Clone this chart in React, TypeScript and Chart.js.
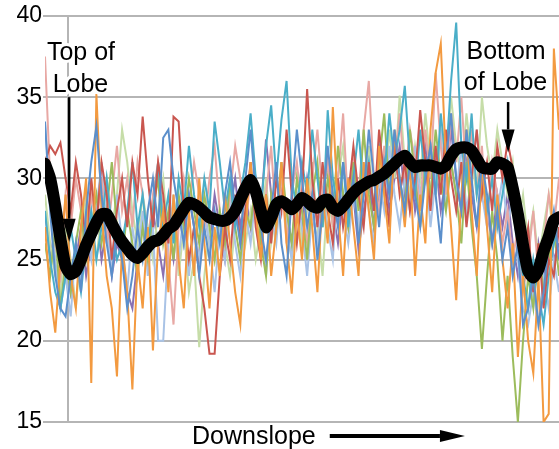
import React, { useEffect, useRef } from "react";
import { Chart, registerables } from "chart.js";

Chart.register(...registerables);

// y axis ticks
const yTickValues = [15, 20, 25, 30, 35, 40];

// thin individual series (sample index 0..100)
const seriesBlue = [
  33.5, 28, 24, 22, 21.5, 24, 26, 23, 28, 31,
  33.2, 29, 26, 24, 27, 25, 22, 24, 27, 25,
  28, 30, 27, 32.5, 33, 30, 28, 26, 29, 27,
  24, 27, 25, 28, 26, 29, 31, 28, 26, 30,
  33, 29, 27, 25, 28, 31, 26, 24, 29, 33,
  30, 27, 29, 25, 28, 32, 29, 27, 31, 28,
  30, 26, 29, 33, 30, 27, 31, 29, 33, 30,
  28, 31, 29, 27, 30, 32, 29, 26, 31, 34,
  30, 28, 33, 30, 27, 31, 29, 26, 28, 25,
  27, 24, 26, 21, 22, 24, 21, 23, 26, 28, 25,
];
const seriesOrange = [
  27, 23, 20.5, 25, 29, 24, 22, 27, 30, 17.4,
  35.2, 28, 24, 22, 17.8, 26, 23, 17, 25, 22,
  27, 19.4, 26, 28, 23, 29, 25, 22, 28, 24,
  30, 26, 22, 27, 24, 29, 26, 23, 21, 27,
  31, 28, 25, 29, 24, 27, 31, 26, 22.9, 28,
  25, 30, 27, 23, 29, 26, 34.4, 28, 24, 30,
  27, 24, 31, 28, 25, 32, 29, 26, 33, 30,
  27, 31, 24, 29, 26, 33, 36.5, 38.3, 31, 27,
  22.5, 29, 33, 28, 24, 31, 27, 23, 29, 25,
  22, 26, 19, 24, 20, 18, 24, 15, 15.5, 38, 33,
];
const seriesRed = [
  31, 32, 31.5, 32.2, 30, 28, 31, 29, 26, 30,
  27, 31, 29, 25, 28, 30, 27, 31, 29, 33.8,
  30, 27, 31, 29, 26, 33.8, 33.5, 28, 25, 27,
  24, 22, 19.2, 19.2, 24, 27, 25, 29, 26, 28,
  31, 27, 25, 29, 26, 30, 28, 33, 29, 26,
  29, 35.5, 30, 27, 31, 28, 26, 30, 27, 29,
  32, 29, 27, 31, 28, 33, 30, 27, 32, 29,
  31, 28, 30, 34.2, 31, 28, 32, 29, 33, 30,
  28, 31, 27, 30, 33, 29, 31, 28, 32, 30,
  32.3, 30.6, 28, 25, 27, 23, 26, 22, 25, 24, 27,
];
const seriesTeal = [
  28, 25, 23, 22, 24, 27, 25, 23, 26, 28,
  25, 27, 30, 27, 25, 26, 28, 31, 27, 29,
  26, 28, 31, 27, 29, 26, 30, 28, 32, 29,
  27, 30, 28, 33.5, 31, 28, 30, 27, 29, 31,
  34, 30, 28, 32, 34.5, 30, 33.6, 36, 30, 28,
  31, 29, 33, 30, 27, 34.2, 30, 28, 31, 27,
  30, 33, 29, 31, 28, 32, 30, 34, 31, 33,
  35.7, 31, 29, 33, 30, 32, 29, 34, 31, 36,
  39.6, 32, 30, 34, 29, 31, 28, 30, 27, 29,
  31, 28, 26, 24, 22, 25, 23, 21, 24, 26, 27,
];
const seriesGreen = [
  26, 24, 27, 22, 25, 23, 26, 28, 25, 27,
  29, 26, 28, 31, 27, 25, 28, 26, 24, 27,
  25, 28, 30, 26, 28, 25, 29, 27, 30, 28,
  26, 29, 27, 25, 28, 26, 30, 27, 25, 28,
  27, 30, 26, 24, 29, 27, 31, 28, 26, 30,
  28, 25, 29, 31, 27, 30, 28, 32, 29, 27,
  31, 28, 33, 29, 27, 31, 34, 29, 32, 30,
  28, 33, 30, 27, 31, 29, 33, 30, 28, 31,
  29, 26, 31, 27, 24, 19.5, 24, 28, 25, 20,
  24, 19, 15, 20, 24, 22, 26, 23, 25, 27, 24,
];
const seriesPink = [
  37.5, 30, 26, 24, 29, 27, 30, 28, 25, 29,
  27, 30, 26, 29, 32, 28, 30, 27, 31, 29,
  26, 29, 31, 28, 25, 21, 27, 30, 28, 31,
  29, 27, 30, 32, 28, 26, 29, 32, 30, 27,
  30, 28, 25, 29, 32, 27, 30, 26, 29, 31,
  28, 26, 30, 33, 29, 31, 27, 30, 34, 28,
  31, 29, 33, 36, 30, 28, 32, 29, 31, 34,
  30, 33, 31, 28, 33, 30, 36.5, 32, 29, 34,
  31, 35, 30, 33, 29, 32, 27, 31, 29, 26,
  28, 25, 27, 23, 25, 28, 24, 26, 29, 27, 30,
];
const seriesLightBlue = [
  33.4, 29, 25, 22, 24, 21.5, 26, 24, 27, 25,
  28, 31, 27, 24, 29, 26, 23, 27, 25, 28,
  24, 27, 20, 20, 26, 29, 25, 28, 24, 27,
  25, 28, 26, 23, 27, 25, 29, 26, 24, 28,
  26, 29, 27, 24, 28, 26, 30, 27, 25, 29,
  27, 24, 28, 26, 29, 27, 25, 30, 28, 26,
  29, 27, 31, 28, 26, 30, 28, 32, 29, 27,
  30, 28, 32, 29, 31, 27, 30, 33, 28, 31,
  29, 32, 28, 30, 33, 29, 27, 31, 28, 30,
  27, 29, 25, 22, 21, 23, 21, 24, 22, 25, 23,
];
const seriesLightGreen = [
  29, 26, 24, 23, 27, 25, 22, 26, 29, 27,
  25, 28, 30, 27, 29, 33, 31, 28, 26, 29,
  27, 25, 28, 30, 26, 28, 24, 27, 23, 25,
  19.6, 24, 27, 25, 28, 26, 24, 27, 29, 26,
  28, 25, 27, 30, 26, 28, 31, 27, 25, 29,
  26, 28, 31, 27, 24, 29, 27, 30, 32, 28,
  30, 27, 29, 32, 28, 31, 29, 33, 30, 35.1,
  31, 29, 32, 30, 34, 31, 29, 33, 31, 35,
  32, 30, 34, 31, 29, 35, 32, 30, 33, 31,
  29, 31, 27, 29, 26, 28, 25, 27, 29, 26, 28,
];
const seriesPurple = [
  28, 25, 27, 24, 26, 23, 25, 27, 24, 26,
  28, 25, 27, 24, 26, 25, 23, 22, 25, 27,
  25, 28, 26, 24, 27, 25, 28, 26, 29, 27,
  25, 28, 26, 29, 27, 25, 28, 30, 27, 29,
  27, 30, 28, 32.4, 29, 27, 30, 28, 26, 29,
  27, 30, 28, 26, 29, 31, 28, 26, 29, 27,
  29, 25.6, 28, 30, 27, 29, 31, 28, 30, 32,
  29, 31, 28, 30, 32, 29, 31, 28, 30, 33,
  30, 28, 31, 29, 27, 30, 28, 26, 29, 27,
  29, 26, 24, 27, 25, 23, 26, 24, 27, 25, 26,
];

// thick black average line
const seriesAverage = [
  30.9, 30.0, 28.3, 26.3, 24.6, 24.1, 24.3, 25.0, 25.9, 26.6,
  27.3, 27.8, 27.8, 27.2, 26.6, 26.1, 25.7, 25.3, 25.1, 25.4,
  25.8, 26.1, 26.2, 26.5, 26.9, 27.1, 27.6, 28.1, 28.5, 28.4,
  28.2, 27.9, 27.6, 27.5, 27.4, 27.4, 27.6, 28.0, 28.7, 29.4,
  29.9, 29.2, 28.0, 27.0, 27.6, 28.4, 28.6, 28.4, 28.1, 28.4,
  28.8, 28.6, 28.3, 28.2, 28.6, 28.7, 28.2, 28.0, 28.3, 28.7,
  29.1, 29.4, 29.6, 29.8, 29.9, 30.1, 30.3, 30.6, 30.9, 31.2,
  31.4, 31.0, 30.7, 30.8, 30.8, 30.8, 30.7, 30.6, 30.8, 31.4,
  31.8, 31.9, 31.9, 31.7, 31.2, 30.7, 30.6, 30.6, 31.0, 30.9,
  30.7, 29.4, 27.8, 25.9, 24.3, 23.9, 24.4, 25.5, 26.4, 27.4, 27.6,
];

const thinSeries = [
  { data: seriesBlue, color: "#5b8fcb" },
  { data: seriesOrange, color: "#f39a40" },
  { data: seriesRed, color: "#c9564f" },
  { data: seriesTeal, color: "#4aaec8" },
  { data: seriesGreen, color: "#9cbc5c" },
  { data: seriesPink, color: "#e8a8a4" },
  { data: seriesLightBlue, color: "#a9c3e6" },
  { data: seriesLightGreen, color: "#c6dda8" },
  { data: seriesPurple, color: "#8a70b2" },
];

const topLabel = ["Top of", "Lobe"];
const bottomLabel = ["Bottom", "of Lobe"];
const axisLabel = "Downslope";

const FONT = "'Liberation Sans', Arial, Helvetica, sans-serif";

function drawArrow(
  ctx: CanvasRenderingContext2D,
  x1: number, y1: number, x2: number, y2: number,
  lineW: number, headLen: number, headW: number
) {
  const ang = Math.atan2(y2 - y1, x2 - x1);
  const bx = x2 - headLen * Math.cos(ang);
  const by = y2 - headLen * Math.sin(ang);
  ctx.beginPath();
  ctx.lineWidth = lineW;
  ctx.strokeStyle = "#000";
  ctx.lineCap = "butt";
  ctx.moveTo(x1, y1);
  ctx.lineTo(bx, by);
  ctx.stroke();
  const px = -Math.sin(ang) * headW / 2;
  const py = Math.cos(ang) * headW / 2;
  ctx.beginPath();
  ctx.fillStyle = "#000";
  ctx.moveTo(x2, y2);
  ctx.lineTo(bx + px, by + py);
  ctx.lineTo(bx - px, by - py);
  ctx.closePath();
  ctx.fill();
}

function haloText(ctx: CanvasRenderingContext2D, t: string, x: number, y: number) {
  ctx.lineWidth = 6;
  ctx.lineJoin = "round";
  ctx.strokeStyle = "#fff";
  ctx.strokeText(t, x, y);
  ctx.fillStyle = "#000";
  ctx.fillText(t, x, y);
}

const annotationPlugin = {
  id: "lobeAnnotations",
  afterDatasetsDraw(chart: any) {
    const { ctx, chartArea } = chart;
    const x = chart.scales.x;
    const y = chart.scales.y;
    ctx.save();
    ctx.font = `25px ${FONT}`;
    ctx.textAlign = "center";
    ctx.textBaseline = "alphabetic";

    // Top of Lobe
    drawArrow(ctx, x.getPixelForValue(4.7), y.getPixelForValue(35.0),
      x.getPixelForValue(4.7), y.getPixelForValue(26.1), 2.5, 23, 13);
    haloText(ctx, topLabel[0], x.getPixelForValue(7.0), y.getPixelForValue(37.3));
    haloText(ctx, topLabel[1], x.getPixelForValue(6.9), y.getPixelForValue(35.3));

    // Bottom of Lobe
    drawArrow(ctx, x.getPixelForValue(90.1), y.getPixelForValue(34.7),
      x.getPixelForValue(90.1), y.getPixelForValue(31.6), 2.5, 23, 13);
    haloText(ctx, bottomLabel[0], x.getPixelForValue(89.7), y.getPixelForValue(37.35));
    haloText(ctx, bottomLabel[1], x.getPixelForValue(89.6), y.getPixelForValue(35.45));

    // Downslope axis label
    ctx.textAlign = "left";
    ctx.fillStyle = "#000";
    ctx.fillText(axisLabel, x.getPixelForValue(28.6), chartArea.bottom + 22);
    drawArrow(ctx, x.getPixelForValue(55.4), chartArea.bottom + 14,
      x.getPixelForValue(81.7), chartArea.bottom + 14, 4, 25, 12);
    ctx.restore();
  },
};

export default function App() {
  const ref = useRef<HTMLCanvasElement | null>(null);
  useEffect(() => {
    document.body.style.margin = "0";
    if (!ref.current) return;
    const datasets: any[] = [
      {
        data: seriesAverage.map((v, i) => ({ x: i, y: v })),
        borderColor: "#000",
        borderWidth: 12,
        borderJoinStyle: "round",
        borderCapStyle: "round",
        pointRadius: 0,
        tension: 0.2,
        order: 0,
      },
      ...thinSeries.map((s, k) => ({
        data: s.data.map((v, i) => ({ x: i, y: v })),
        borderColor: s.color,
        borderWidth: 2,
        pointRadius: 0,
        tension: 0,
        order: k + 1,
      })),
    ];
    const chart = new Chart(ref.current, {
      type: "line",
      data: { datasets },
      options: {
        animation: false,
        responsive: true,
        maintainAspectRatio: false,
        layout: { padding: { top: 16, right: 0, bottom: 27, left: 0 } },
        plugins: { legend: { display: false }, tooltip: { enabled: false } },
        scales: {
          x: {
            type: "linear",
            min: 0,
            max: seriesAverage.length - 1,
            afterBuildTicks: (scale: any) => {
              scale.ticks = [{ value: 4.5 }];
            },
            afterFit: (scale: any) => {
              scale.height = 0;
            },
            ticks: { display: false },
            grid: { color: "#b5b5b5", lineWidth: 2, drawTicks: false },
            border: { display: false },
          },
          y: {
            min: 15,
            max: 40,
            afterBuildTicks: (scale: any) => {
              scale.ticks = yTickValues.map((v) => ({ value: v }));
            },
            afterFit: (scale: any) => {
              scale.width = 45;
            },
            ticks: {
              color: "#000",
              padding: 1,
              font: { family: FONT, size: 23 },
            },
            grid: { color: "#b5b5b5", lineWidth: 2, tickLength: 2 },
            border: { display: false },
          },
        },
      },
      plugins: [annotationPlugin],
    });
    return () => chart.destroy();
  }, []);
  return (
    <div style={{ width: 559, height: 449, position: "relative", background: "#fff" }}>
      <canvas ref={ref} />
    </div>
  );
}
